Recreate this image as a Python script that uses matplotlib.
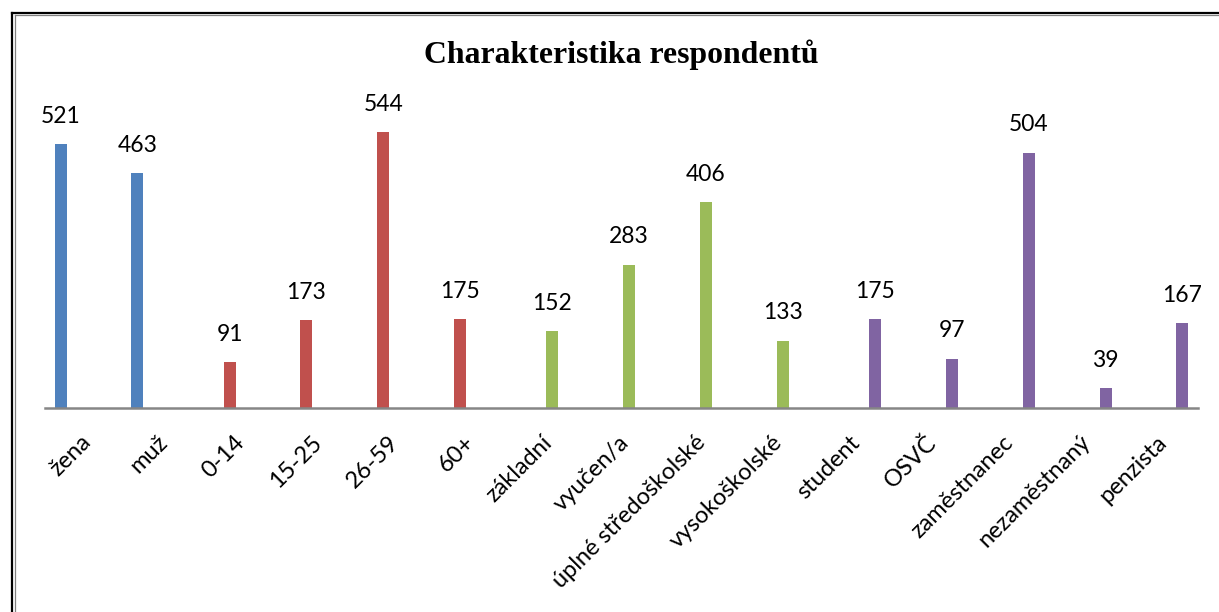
import matplotlib
matplotlib.use("Agg")
import matplotlib.pyplot as plt
import matplotlib.transforms as mtransforms
from matplotlib.lines import Line2D

# data
categories = ["žena", "muž",
              "0-14", "15-25", "26-59", "60+",
              "základní", "vyučen/a", "úplné středoškolské", "vysokoškolské",
              "student", "OSVČ", "zaměstnanec", "nezaměstnaný", "penzista"]
values = [521, 463,
          91, 173, 544, 175,
          152, 283, 406, 133,
          175, 97, 504, 39, 167]
series_of = [0, 0,
             1, 1, 1, 1,
             2, 2, 2, 2,
             3, 3, 3, 3, 3]
series_colors = ["#4F81BD", "#C0504D", "#9BBB59", "#8064A2"]
title = "Charakteristika respondentů"

# clustered layout: 4 series per category slot, only one of them is non-zero
n_series = len(series_colors)
pitch = 0.198
xs = [i + (s - (n_series - 1) / 2) * pitch for i, s in enumerate(series_of)]
colors = [series_colors[s] for s in series_of]

W, H = 1219, 612
fig = plt.figure(figsize=(W / 100, H / 100), dpi=100)
ax = fig.add_axes([45 / W, (H - 408) / H, (1198 - 45) / W, 304 / H])

ax.bar(xs, values, width=0.156, color=colors, zorder=2)
ax.set_xlim(-0.5, len(categories) - 0.5)
ax.set_ylim(0, 600)

for s in ["top", "right", "left"]:
    ax.spines[s].set_visible(False)
ax.spines["bottom"].set_color("#868686")
ax.spines["bottom"].set_linewidth(1.8)
ax.set_yticks([])
ax.set_xticks([])

val_font = dict(family=["Lato", "DejaVu Sans"], fontsize=16.5, color="black")
cat_font = dict(family=["Lato", "DejaVu Sans"], fontsize=17, color="black")
for x, v in zip(xs, values):
    ax.annotate(str(v), (x, v), xytext=(0, 12.5), textcoords="offset points",
                ha="center", va="bottom", **val_font)

# rotated category labels, right end just right of the category centre
off = mtransforms.ScaledTranslation(4 / 100, -31 / 100, fig.dpi_scale_trans)
for i, c in enumerate(categories):
    ax.text(i, 0, c, rotation=45, ha="right", va="center", rotation_mode="anchor",
            transform=ax.get_xaxis_transform() + off, **cat_font)

fig.text(621 / W, 1 - 55 / H, title, ha="center", va="center",
         family="Liberation Serif", fontweight="bold", fontsize=22.9)

# frame lines around the chart area
def fline(x0, y0, x1, y1, color, lw):
    fig.add_artist(Line2D([x0 / W, x1 / W], [1 - y0 / H, 1 - y1 / H],
                          color=color, lw=lw, transform=fig.transFigure))

fline(12, 13, 12, H, "black", 1.6)
fline(15, 14.5, 15, H, "#808080", 0.9)
fline(12, 13, W, 13, "black", 1.6)
fline(15, 14.5, W, 14.5, "#808080", 0.9)

fig.savefig("out.png", dpi=100)
